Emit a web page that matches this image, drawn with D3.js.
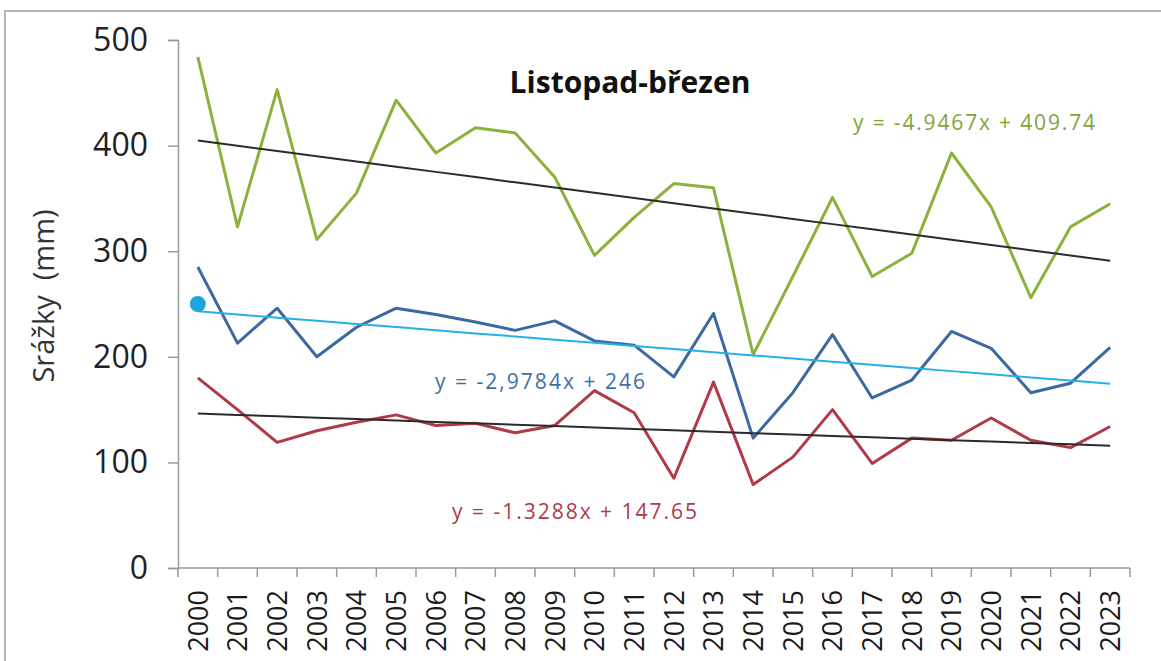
<!DOCTYPE html>
<html>
<head>
<meta charset="utf-8">
<script src="https://cdn.jsdelivr.net/npm/d3@7"></script>
<style>
  html, body { margin: 0; padding: 0; background: #fff; }
  svg { display: block; }
  text { font-family: "Open Sans", "Noto Sans", sans-serif; }
</style>
</head>
<body>
<svg id="chart" width="1161" height="661"></svg>
<script>
// Winter-season (November–March) precipitation totals, 2000–2023
const years = ["2000","2001","2002","2003","2004","2005","2006","2007","2008","2009","2010","2011",
               "2012","2013","2014","2015","2016","2017","2018","2019","2020","2021","2022","2023"];

const greenValues = [484, 323, 453, 311, 355, 443, 393, 417, 412, 370, 296, 332,
                     364, 360, 202, 276, 351, 276, 298, 393, 342, 256, 323, 345];
const blueValues  = [285, 213, 246, 200, 228, 246, 240, 233, 225, 234, 215, 211,
                     181, 241, 123, 166, 221, 161, 178, 224, 208, 166, 175, 209];
const redValues   = [180, 150, 119, 130, 138, 145, 135, 137, 128, 135, 168, 147,
                      85, 176,  79, 105, 150,  99, 123, 121, 142, 121, 114, 134];

// Linear trends (x = 1 for the first year)
const trendSlopes     = [-4.9467, -2.9784, -1.3288];
const trendIntercepts = [409.74, 246, 147.65];
const trendLabels     = ["y = -4.9467x + 409.74", "y = -2,9784x + 246", "y = -1.3288x + 147.65"];

const startMarkerValue = 250;
const yTicks = [0, 100, 200, 300, 400, 500];

const title = "Listopad-březen";
const yTitle = "Srážky  (mm)";

const svg = d3.select("#chart");

// outer frame
svg.append("rect")
  .attr("x", 5).attr("y", 11).attr("width", 1200).attr("height", 700)
  .attr("fill", "none").attr("stroke", "#b4b4b4").attr("stroke-width", 2);

const x = d3.scaleBand().domain(years).range([178, 1130]).padding(0);
const y = d3.scaleLinear().domain([0, 500]).range([568, 40]);
const cx = d => x(d) + x.bandwidth() / 2;

// y axis
const yAxis = svg.append("g").attr("transform", "translate(178,0)")
  .call(d3.axisLeft(y).tickValues(yTicks).tickSize(10).tickPadding(20));
yAxis.select(".domain").attr("stroke", "#9a9a9a").attr("stroke-width", 1.5);
yAxis.selectAll(".tick line").attr("stroke", "#9a9a9a").attr("stroke-width", 1.5);
yAxis.selectAll(".tick text")
  .attr("font-size", 32).attr("fill", "#222")
  .attr("font-family", "'Open Sans', sans-serif");

// x axis: labels at category centres, tick marks between categories
const xAxis = svg.append("g").attr("transform", "translate(0,568)")
  .call(d3.axisBottom(x).tickSize(0).tickPadding(0));
xAxis.select(".domain").remove();
xAxis.selectAll(".tick text")
  .attr("font-size", 27).attr("fill", "#1a1a1a").attr("font-weight", 500)
  .attr("font-family", "'Open Sans', sans-serif")
  .attr("text-anchor", "end")
  .attr("transform", "translate(0,22) rotate(-90)")
  .attr("dx", 0).attr("dy", "0.36em");

svg.append("line")
  .attr("x1", x.range()[0]).attr("x2", x.range()[1])
  .attr("y1", y(0)).attr("y2", y(0))
  .attr("stroke", "#9a9a9a").attr("stroke-width", 1.5);
const boundaries = d3.range(years.length + 1).map(i => x.range()[0] + i * x.step());
svg.append("g").selectAll("line").data(boundaries).join("line")
  .attr("x1", d => d).attr("x2", d => d)
  .attr("y1", y(0)).attr("y2", y(0) + 9)
  .attr("stroke", "#9a9a9a").attr("stroke-width", 1.5);

// y axis title
svg.append("text")
  .attr("transform", `translate(44,296) rotate(-90)`)
  .attr("text-anchor", "middle").attr("dy", "0.35em")
  .attr("font-size", 29).attr("fill", "#333")
  .style("white-space", "pre")
  .text(yTitle);

// chart title
svg.append("text")
  .attr("x", 630).attr("y", 82).attr("dy", "0.35em")
  .attr("text-anchor", "middle")
  .attr("font-size", 30).attr("font-weight", "bold").attr("fill", "#111")
  .text(title);

const line = d3.line().x((d, i) => cx(years[i])).y(d => y(d));

const series = [
  { values: greenValues, color: "#8bb23c" },
  { values: blueValues,  color: "#3b6aa0" },
  { values: redValues,   color: "#b03a47" }
];

svg.append("g").selectAll("path").data(series).join("path")
  .attr("d", d => line(d.values))
  .attr("fill", "none")
  .attr("stroke", d => d.color)
  .attr("stroke-width", 3)
  .attr("stroke-linejoin", "round");

// trend lines
const trendColors = ["#2b2b2b", "#26b1e6", "#2b2b2b"];
const trendData = trendSlopes.map((s, k) => years.map((yr, i) => s * (i + 1) + trendIntercepts[k]));
svg.append("g").selectAll("path").data(trendData).join("path")
  .attr("d", d => line(d))
  .attr("fill", "none")
  .attr("stroke", (d, k) => trendColors[k])
  .attr("stroke-width", 2);

// start marker
svg.append("circle")
  .attr("cx", cx(years[0])).attr("cy", y(startMarkerValue)).attr("r", 8)
  .attr("fill", "#1aa6dc");

// trend equations
const labelPos = [
  { x: 853, y: 123, w: 242, color: "#7fa43a" },
  { x: 435, y: 382, w: 210, color: "#3f6fa5" },
  { x: 452, y: 512, w: 245, color: "#b03a47" }
];
svg.append("g").selectAll("text").data(trendLabels).join("text")
  .attr("x", (d, k) => labelPos[k].x)
  .attr("y", (d, k) => labelPos[k].y)
  .attr("dy", "0.35em")
  .attr("text-anchor", "start")
  .attr("font-size", 21)
  .attr("textLength", (d, k) => labelPos[k].w)
  .attr("lengthAdjust", "spacing")
  .attr("fill", (d, k) => labelPos[k].color)
  .text(d => d);
</script>
</body>
</html>
